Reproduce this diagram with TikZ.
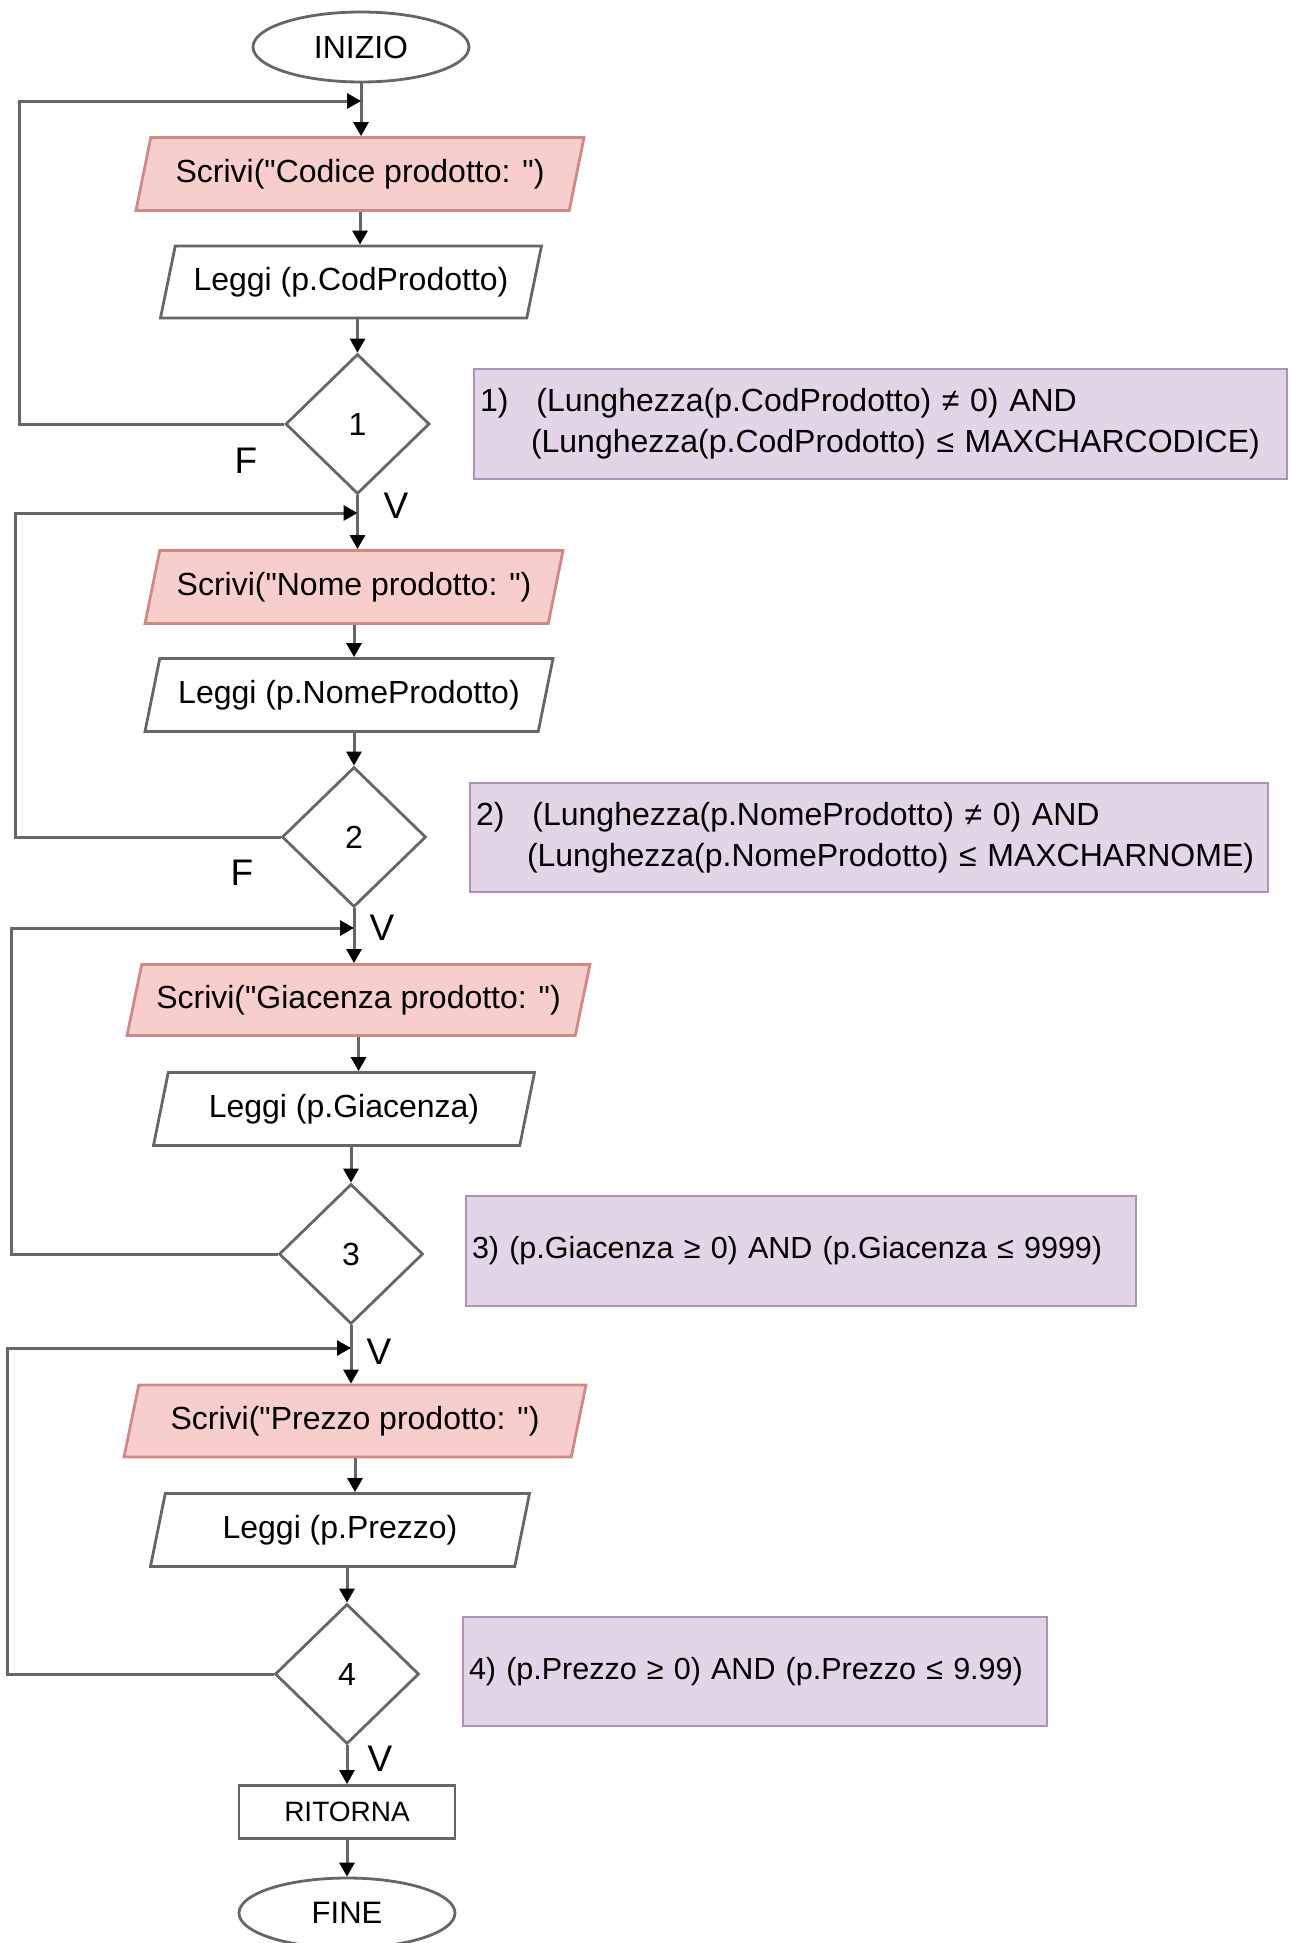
\documentclass[tikz,border=0pt]{standalone}
\usepackage{fontspec}
\newfontfamily\flow{Liberation Sans}
\usetikzlibrary{shapes.geometric,arrows.meta}

\definecolor{linegray}{HTML}{666666}
\definecolor{iofill}{HTML}{F8CECC}
\definecolor{iodraw}{HTML}{CF8A86}
\definecolor{notefill}{HTML}{E1D5E7}
\definecolor{notedraw}{HTML}{AE92BC}

\newcommand{\fsz}{\flow\fontsize{32}{41}\selectfont}
\newcommand{\lsz}{\flow\fontsize{37}{41}\selectfont}

\tikzset{
  every node/.style={font=\fsz, line width=2.8pt},
  par/.style={trapezium, trapezium left angle=68, trapezium right angle=112,
    trapezium stretches body, inner xsep=0pt, draw=linegray, fill=white},
  io/.style={par, draw=iodraw, fill=iofill},
  cond/.style={diamond, draw=linegray, minimum width=144pt, minimum height=140pt, inner sep=0pt},
  term/.style={ellipse, draw=linegray, minimum width=216pt, minimum height=70pt},
  note/.style={rectangle, draw=notedraw, fill=notefill, align=left, inner xsep=6pt},
  arr/.style={draw=linegray, line width=3pt, -{Triangle[length=14pt,width=15pt,color=black]}},
  lab/.style={font=\lsz}
}

\begin{document}
\begin{tikzpicture}[x=1pt,y=-1pt]
\useasboundingbox (0,0) rectangle (1290,1943);

% blocchi principali
\node[term] (ini) at (361,47) {INIZIO};

\node[io, minimum width=448pt, minimum height=73pt] (s1) at (360,174) {Scrivi("Codice prodotto: ")};
\node[par, minimum width=381pt, minimum height=72pt] (l1) at (351,282) {Leggi (p.CodProdotto)};
\node[cond] (d1) at (357.5,424) {1};

\node[io, minimum width=418pt, minimum height=73pt] (s2) at (354,587) {Scrivi("Nome prodotto: ")};
\node[par, minimum width=408pt, minimum height=73pt] (l2) at (349,695) {Leggi (p.NomeProdotto)};
\node[cond] (d2) at (354,837) {2};

\node[io, minimum width=463pt, minimum height=71pt] (s3) at (358.5,1000) {Scrivi("Giacenza prodotto: ")};
\node[par, minimum width=381pt, minimum height=73pt] (l3) at (344,1109) {Leggi (p.Giacenza)};
\node[cond] (d3) at (351,1254) {3};

\node[io, minimum width=462pt, minimum height=72pt] (s4) at (355,1421) {Scrivi("Prezzo prodotto: ")};
\node[par, minimum width=379pt, minimum height=73pt] (l4) at (340,1530) {Leggi (p.Prezzo)};
\node[cond] (d4) at (347,1674) {4};

\node[rectangle, draw=linegray, minimum width=216pt, minimum height=53pt, font=\flow\fontsize{28}{34}\selectfont] (rit) at (347,1812) {RITORNA};
\node[term, font=\flow\fontsize{31}{36}\selectfont] (fine) at (347,1913) {FINE};

% condizioni
\node[note, minimum width=813pt, minimum height=110pt, text width=801pt] (n1) at (880.5,424)
  {1)\hspace{28pt}(Lunghezza(p.CodProdotto) ≠ 0) AND\\\hspace*{51pt}(Lunghezza(p.CodProdotto) ≤ MAXCHARCODICE)};
\node[note, minimum width=798pt, minimum height=109pt, text width=786pt] (n2) at (869,837.5)
  {2)\hspace{28pt}(Lunghezza(p.NomeProdotto) ≠ 0) AND\\\hspace*{51pt}(Lunghezza(p.NomeProdotto) ≤ MAXCHARNOME)};
\node[note, minimum width=670pt, minimum height=110pt, text width=658pt, font=\flow\fontsize{30.5}{41}\selectfont] (n3) at (801,1251)
  {3) (p.Giacenza ≥ 0) AND (p.Giacenza ≤ 9999)};
\node[note, minimum width=584pt, minimum height=109pt, text width=572pt, font=\flow\fontsize{30.5}{41}\selectfont] (n4) at (755,1671.5)
  {4) (p.Prezzo ≥ 0) AND (p.Prezzo ≤ 9.99)};

% punti di rientro dei cicli
\coordinate (j1) at (ini.south |- 0,101);
\coordinate (j2) at (d1.south |- 0,513);
\coordinate (j3) at (d2.south |- 0,928);
\coordinate (j4) at (d3.south |- 0,1348);
\coordinate (k1) at (19,101);
\coordinate (k2) at (15,513);
\coordinate (k3) at (11,928);
\coordinate (k4) at (7,1348);

% flusso
\draw[arr] (ini.south) -- (ini.south |- s1.north);
\draw[arr] (s1.south) -- (s1.south |- l1.north);
\draw[arr] (d1.north |- l1.south) -- (d1.north);
\draw[arr] (d1.south) -- (d1.south |- s2.north);
\draw[arr] (s2.south) -- (s2.south |- l2.north);
\draw[arr] (d2.north |- l2.south) -- (d2.north);
\draw[arr] (d2.south) -- (d2.south |- s3.north);
\draw[arr] (s3.south) -- (s3.south |- l3.north);
\draw[arr] (d3.north |- l3.south) -- (d3.north);
\draw[arr] (d3.south) -- (d3.south |- s4.north);
\draw[arr] (s4.south) -- (s4.south |- l4.north);
\draw[arr] (d4.north |- l4.south) -- (d4.north);
\draw[arr] (d4.south) -- (d4.south |- rit.north);
\draw[arr] (rit.south) -- (rit.south |- fine.north);

% cicli (falso)
\draw[arr] (d1.west) -| (k1) -- (j1);
\draw[arr] (d2.west) -| (k2) -- (j2);
\draw[arr] (d3.west) -| (k3) -- (j3);
\draw[arr] (d4.west) -| (k4) -- (j4);

% etichette
\node[lab] (f1) at (246,461) {F};
\node[lab] (v1) at (396,506) {V};
\node[lab] (f2) at (242,873) {F};
\node[lab] (v2) at (382,928) {V};
\node[lab] (v3) at (379,1352) {V};
\node[lab] (v4) at (380,1759) {V};

\end{tikzpicture}
\end{document}
